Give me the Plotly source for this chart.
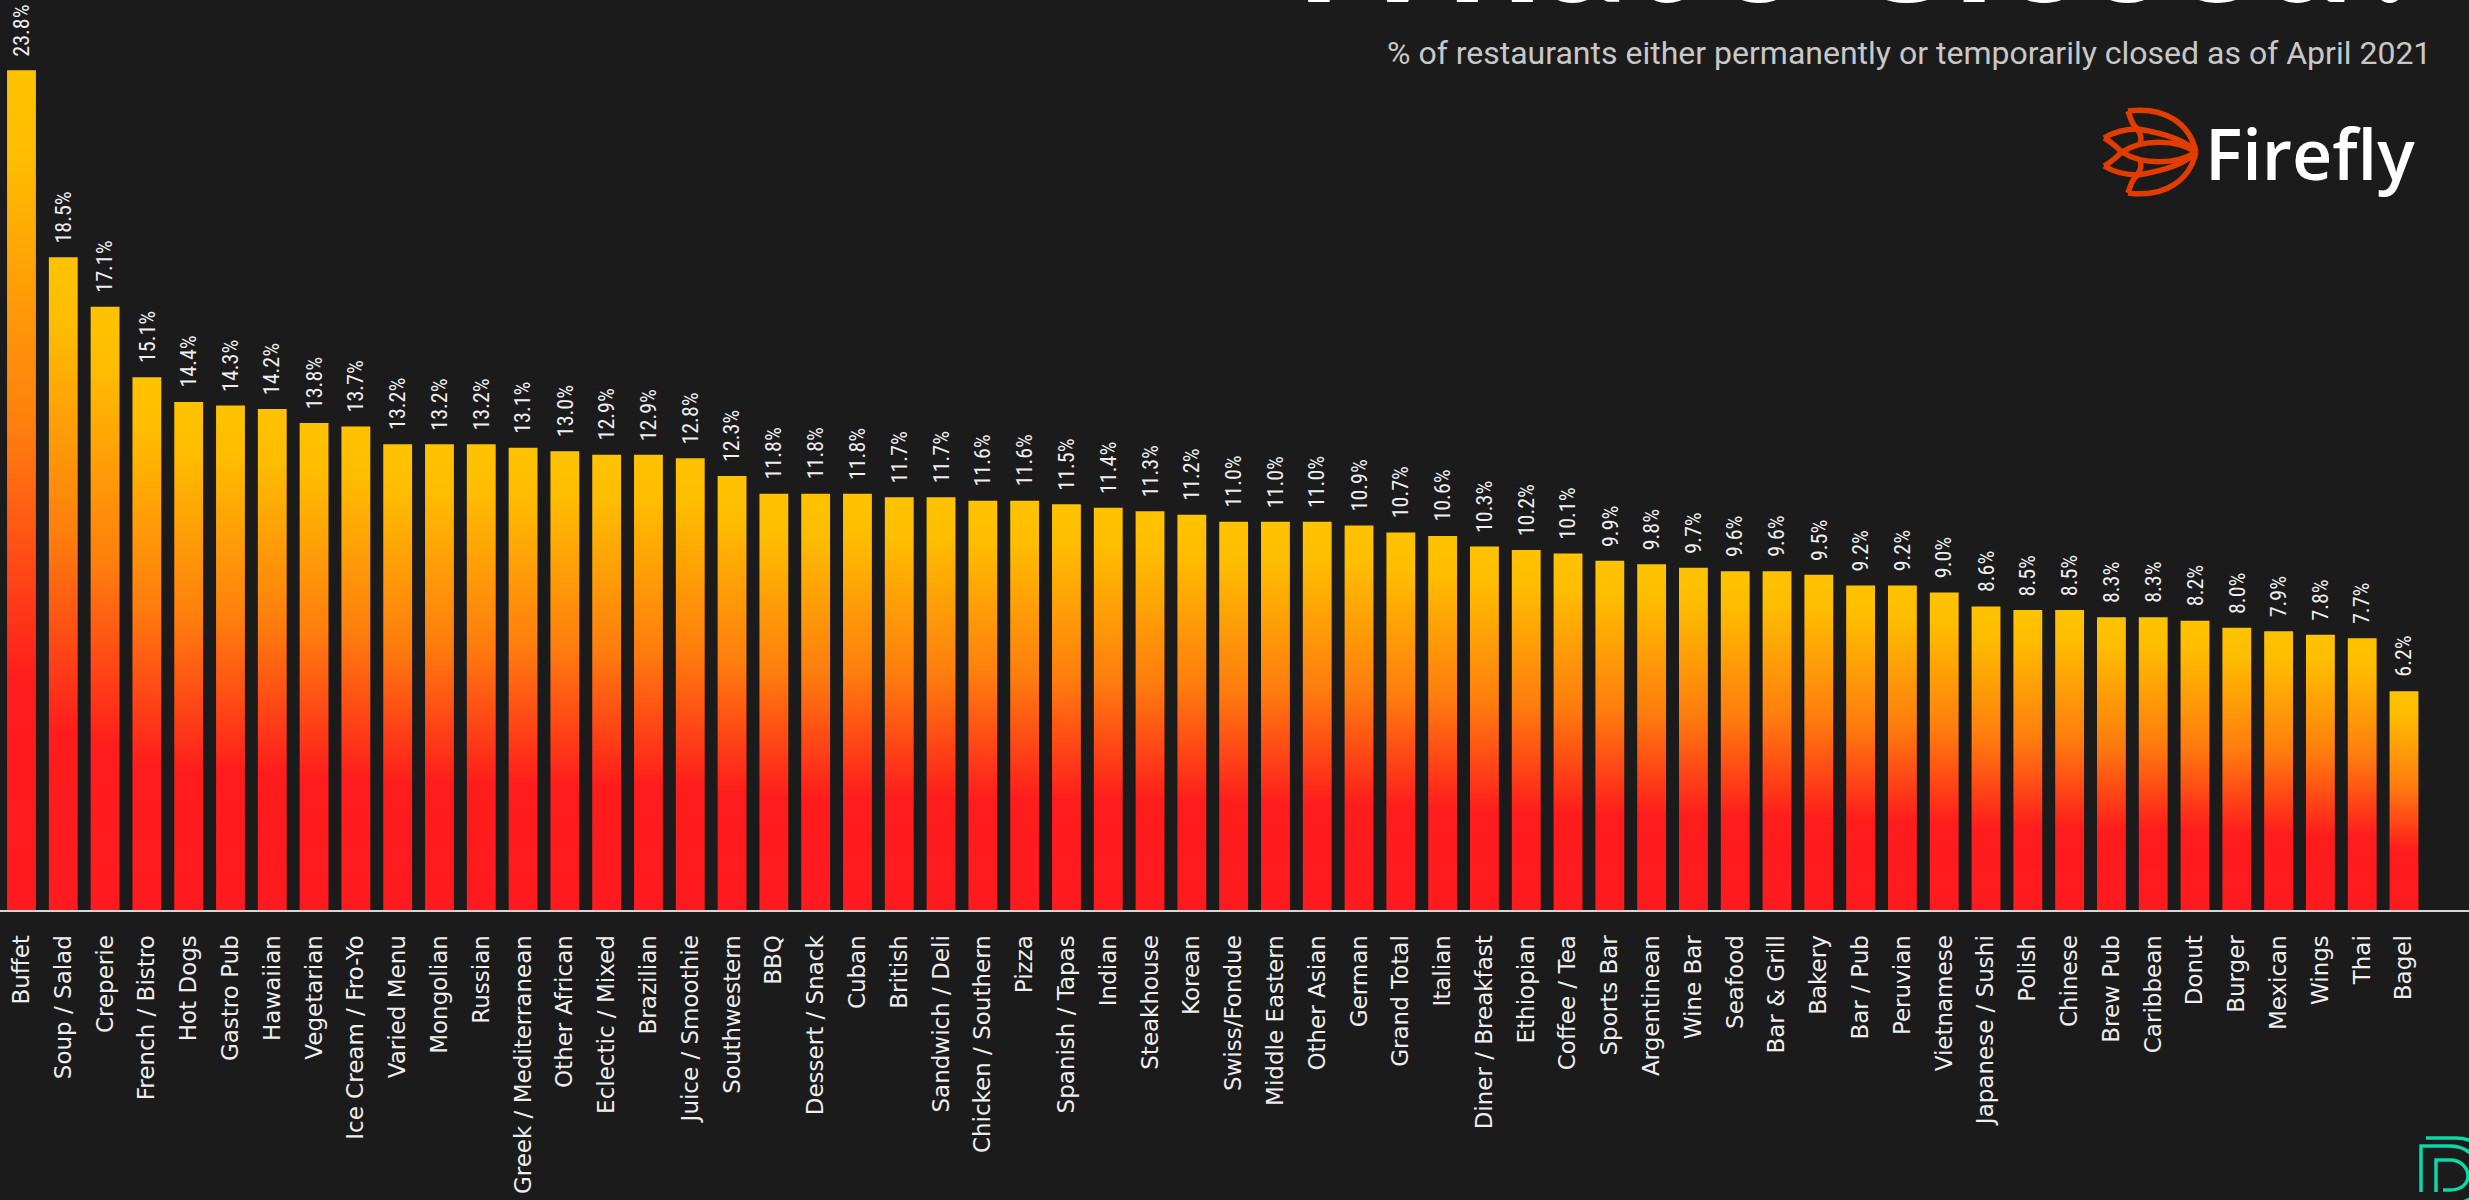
import plotly.graph_objects as go

# Restaurant categories, ordered by share of closed locations
categories = [
    "Buffet", "Soup / Salad", "Creperie", "French / Bistro", "Hot Dogs", "Gastro Pub",
    "Hawaiian", "Vegetarian", "Ice Cream / Fro-Yo", "Varied Menu", "Mongolian", "Russian",
    "Greek / Mediterranean", "Other African", "Eclectic / Mixed", "Brazilian",
    "Juice / Smoothie", "Southwestern", "BBQ", "Dessert / Snack", "Cuban", "British",
    "Sandwich / Deli", "Chicken / Southern", "Pizza", "Spanish / Tapas", "Indian",
    "Steakhouse", "Korean", "Swiss/Fondue", "Middle Eastern", "Other Asian", "German",
    "Grand Total", "Italian", "Diner / Breakfast", "Ethiopian", "Coffee / Tea",
    "Sports Bar", "Argentinean", "Wine Bar", "Seafood", "Bar & Grill", "Bakery",
    "Bar / Pub", "Peruvian", "Vietnamese", "Japanese / Sushi", "Polish", "Chinese",
    "Brew Pub", "Caribbean", "Donut", "Burger", "Mexican", "Wings", "Thai", "Bagel",
]

# % of restaurants permanently or temporarily closed (April 2021)
closed_pct = [
    23.8, 18.5, 17.1, 15.1, 14.4, 14.3, 14.2, 13.8, 13.7, 13.2, 13.2, 13.2,
    13.1, 13.0, 12.9, 12.9, 12.8, 12.3, 11.8, 11.8, 11.8, 11.7, 11.7, 11.6,
    11.6, 11.5, 11.4, 11.3, 11.2, 11.0, 11.0, 11.0, 10.9, 10.7, 10.6, 10.3,
    10.2, 10.1, 9.9, 9.8, 9.7, 9.6, 9.6, 9.5, 9.2, 9.2, 9.0, 8.6, 8.5, 8.5,
    8.3, 8.3, 8.2, 8.0, 7.9, 7.8, 7.7, 6.2,
]

BG = "#1b1b1b"
BAR_WIDTH = 0.69
FIRE_SCALE = [
    [0.0, "#ff1a1f"], [0.27, "#ff1c1c"], [0.57, "#ff7d0e"],
    [0.9, "#ffbd00"], [1.0, "#ffc300"],
]

fig = go.Figure()

# Each bar is a filled rectangle so it can carry its own vertical fire gradient
for i, (cat, val) in enumerate(zip(categories, closed_pct)):
    x0, x1 = i - BAR_WIDTH / 2, i + BAR_WIDTH / 2
    fig.add_trace(go.Scatter(
        x=[x0, x0, x1, x1, x0], y=[0, val, val, 0, 0],
        mode="lines", fill="toself", line=dict(width=0),
        fillgradient=dict(type="vertical", colorscale=FIRE_SCALE),
        hoverinfo="text", text=f"{cat}: {val:.1f}%", showlegend=False,
    ))

annotations = []
# Value labels above each bar
for i, val in enumerate(closed_pct):
    annotations.append(dict(
        x=i, y=val, xref="x", yref="y", text=f"{val:.1f}%", showarrow=False,
        textangle=-90, xanchor="center", yanchor="bottom", yshift=12,
        font=dict(family="Liberation Sans Narrow, Roboto Condensed, Roboto", size=22, color="#eeeeee"),
    ))

# Title block (top right)
annotations.append(dict(
    x=2435 / 2469, y=1, xref="paper", yref="paper", text="<b>What's Closed?</b>",
    showarrow=False, xanchor="right", yanchor="bottom", yshift=-40,
    font=dict(family="Lato", size=170, color="#ffffff", weight=900),
))
annotations.append(dict(
    x=2433 / 2469, y=1 - 53 / 910, xref="paper", yref="paper",
    text="% of restaurants either permanently or temporarily closed as of April 2021",
    showarrow=False, xanchor="right", yanchor="middle",
    font=dict(family="Roboto", size=32, color="#c8c8c8"),
))
annotations.append(dict(
    x=2417 / 2469, y=1 - 153 / 910, xref="paper", yref="paper", text="Firefly",
    showarrow=False, xanchor="right", yanchor="middle",
    font=dict(family="Open Sans", size=70, color="#ffffff", weight=600),
))


def screen_path(cmds):
    """Build an SVG path in page pixels (y down) for pixel-sized shapes anchored at top-left."""
    parts = []
    for cmd in cmds:
        letter, nums = cmd[0], cmd[1:]
        pts = []
        for k in range(0, len(nums), 2):
            pts.append(f"{nums[k]},{-nums[k + 1]}")
        parts.append(letter + " " + " ".join(pts))
    return " ".join(parts)


def logo_shape(cmds, color, width):
    return dict(
        type="path", xref="paper", yref="paper", xsizemode="pixel", ysizemode="pixel",
        xanchor=0, yanchor=1, path=screen_path(cmds),
        line=dict(color=color, width=width), fillcolor="rgba(0,0,0,0)", layer="above",
    )


ORANGE = "#e23c00"
lotus = [
    [("M", 2128, 111), ("C", 2165, 106, 2190, 124, 2196, 152)],
    [("M", 2128, 193), ("C", 2165, 198, 2190, 180, 2196, 152)],
    [("M", 2128, 111), ("C", 2131, 119, 2132, 126, 2138, 129), ("C", 2162, 133, 2186, 140, 2196, 152)],
    [("M", 2128, 193), ("C", 2131, 185, 2132, 178, 2138, 175), ("C", 2162, 171, 2186, 164, 2196, 152)],
    [("M", 2104, 138), ("C", 2114, 132, 2124, 129, 2138, 129)],
    [("M", 2104, 166), ("C", 2114, 172, 2124, 175, 2138, 175)],
    [("M", 2104, 138), ("C", 2112, 142, 2117, 148, 2122, 152)],
    [("M", 2104, 166), ("C", 2112, 162, 2117, 156, 2122, 152)],
    [("M", 2122, 152), ("C", 2142, 139, 2176, 139, 2196, 152)],
    [("M", 2122, 152), ("C", 2142, 165, 2176, 165, 2196, 152)],
    [("M", 2137, 129), ("C", 2141, 134, 2142, 139, 2140, 144)],
    [("M", 2137, 175), ("C", 2141, 170, 2142, 165, 2140, 160)],
]
shapes = [logo_shape(p, ORANGE, 5.5) for p in lotus]

TEAL = "#0bd9a8"
d_mark = [
    [("M", 2426, 1138), ("L", 2456, 1138), ("C", 2478, 1138, 2494, 1156, 2494, 1178)],
    [("M", 2421, 1192), ("L", 2421, 1146), ("L", 2450, 1146), ("C", 2468, 1146, 2482, 1160, 2482, 1178),
     ("C", 2482, 1192, 2472, 1201, 2458, 1203)],
    [("M", 2436, 1192), ("L", 2436, 1160), ("L", 2450, 1160), ("C", 2461, 1160, 2468, 1168, 2468, 1176),
     ("C", 2468, 1184, 2461, 1190, 2450, 1190), ("L", 2443, 1190)],
]
shapes += [logo_shape(p, TEAL, 3.5) for p in d_mark]

fig.update_layout(
    width=2469, height=1200,
    margin=dict(l=0, r=0, t=0, b=290, pad=0),
    paper_bgcolor=BG, plot_bgcolor=BG,
    showlegend=False,
    xaxis=dict(
        range=[-0.514, 58.555], tickmode="array", tickvals=list(range(len(categories))),
        ticktext=categories, tickangle=-90, ticks="", ticklabelstandoff=14,
        tickfont=dict(family="DejaVu Sans", size=23, color="#eeeeee"),
        showgrid=False, zeroline=False, showline=True, linecolor="#d6d6d6", linewidth=2,
        fixedrange=True,
    ),
    yaxis=dict(range=[0, 25.79], visible=False, fixedrange=True),
    annotations=annotations,
    shapes=shapes,
)

fig.write_html("out.html")
